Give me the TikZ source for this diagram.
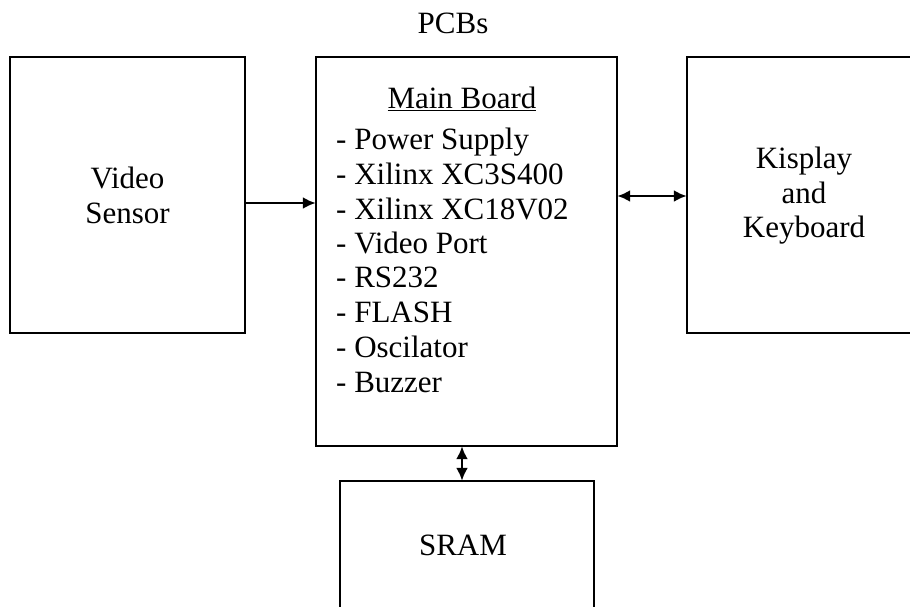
\documentclass[tikz,border=0pt]{standalone}
\usepackage{fontspec}
\setmainfont{Liberation Serif}
\usetikzlibrary{arrows.meta}
\begin{document}
\begin{tikzpicture}[x=1pt,y=-1pt,
  boxline/.style={draw=black,line width=2.5pt},
  txt/.style={font=\fontsize{31}{35}\selectfont,inner sep=0pt,anchor=base},
  conn/.style={line width=2.5pt,-{Latex[length=13pt,width=12pt]}},
  bconn/.style={line width=2.5pt,{Latex[length=13pt,width=12pt]}-{Latex[length=13pt,width=12pt]}}]
\useasboundingbox (0,0) rectangle (910,606);
\clip (0,0) rectangle (910,606);
% boxes
\node[inner sep=0pt,minimum width=235pt,minimum height=276pt] (vs) at (127.5,195) {};
\node[inner sep=0pt,minimum width=301pt,minimum height=389pt] (mb) at (466.5,251.5) {};
\node[inner sep=0pt,minimum width=243pt,minimum height=276pt] (kb) at (808.5,195) {};
\node[inner sep=0pt,minimum width=254pt,minimum height=149pt] (sr) at (467,555.5) {};
\draw[boxline] (vs.north west) rectangle (vs.south east);
\draw[boxline] (mb.north west) rectangle (mb.south east);
\draw[boxline] (kb.north west) rectangle (kb.south east);
\draw[boxline] (sr.north west) rectangle (sr.south east);
% texts
\node[txt] (pcb) at (453,33) {PCBs};
\node[txt] (mt) at (462,108) {\underline{Main Board}};
\node[txt,anchor=base west] (l1) at (336,149) {- Power Supply};
\node[txt,anchor=base west] (l2) at (336,184) {- Xilinx XC3S400};
\node[txt,anchor=base west] (l3) at (336,219) {- Xilinx XC18V02};
\node[txt,anchor=base west] (l4) at (336,253) {- Video Port};
\node[txt,anchor=base west] (l5) at (336,287) {- RS232};
\node[txt,anchor=base west] (l6) at (336,322) {- FLASH};
\node[txt,anchor=base west] (l7) at (336,357) {- Oscilator};
\node[txt,anchor=base west] (l8) at (336,392) {- Buzzer};
\node[txt] (v1) at (127.5,188) {Video};
\node[txt] (v2) at (127.5,223) {Sensor};
\node[txt] (k1) at (804,168) {Kisplay};
\node[txt] (k2) at (804,203) {and};
\node[txt] (k3) at (804,237) {Keyboard};
\node[txt] (st) at (463,555) {SRAM};
% connectors
\draw[conn] (vs.east |- 0,203) -- (mb.west |- 0,203);
\draw[bconn] (mb.east |- 0,196) -- (kb.west |- 0,196);
\draw[bconn] (mb.south -| 462,0) -- (sr.north -| 462,0);
\end{tikzpicture}
\end{document}
